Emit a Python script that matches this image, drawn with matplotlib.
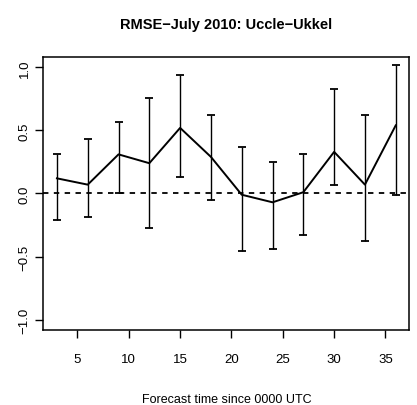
import numpy as np
import matplotlib.pyplot as plt

plt.rcParams['font.family'] = ['Liberation Sans', 'DejaVu Sans']

# forecast lead time (hours) and RMSE statistics
hours = [3, 6, 9, 12, 15, 18, 21, 24, 27, 30, 33, 36]
rmse = [0.12, 0.07, 0.31, 0.24, 0.52, 0.29, -0.01, -0.07, 0.01, 0.33, 0.07, 0.54]
upper = [0.31, 0.43, 0.57, 0.76, 0.94, 0.62, 0.365, 0.25, 0.31, 0.83, 0.62, 1.02]
lower = [-0.21, -0.19, 0.00, -0.27, 0.13, -0.05, -0.46, -0.44, -0.33, 0.07, -0.38, -0.01]

fig = plt.figure(figsize=(4.17, 4.06), dpi=100)
ax = fig.add_axes([0.104, 0.1855, 0.8775, 0.671])

ax.plot(hours, rmse, color='black', lw=1.4)
ax.axhline(0, color='black', lw=1.3, ls=(0, (3, 3)))

h = np.array(hours)
yerr = [np.array(rmse) - np.array(lower), np.array(upper) - np.array(rmse)]
ax.errorbar(h, rmse, yerr=yerr, fmt='none', ecolor='black', elinewidth=1.0,
            capsize=3, capthick=1.3)

ax.set_xlim(1.68, 37.32)
ax.set_ylim(-1.08, 1.08)
ax.set_xticks([5, 10, 15, 20, 25, 30, 35])
ax.set_yticks([-1.0, -0.5, 0.0, 0.5, 1.0])
ax.set_yticklabels(['\u22121.0', '\u22120.5', '0.0', '0.5', '1.0'], rotation=90,
                   va='center')
ax.tick_params(direction='out', length=6, width=1, labelsize=9.5)
ax.tick_params(axis='x', pad=11)
ax.tick_params(axis='y', pad=3)
for s in ax.spines.values():
    s.set_linewidth(1.1)

ax.set_xlabel('Forecast time since 0000 UTC', fontsize=9, labelpad=20)
ax.set_title('RMSE\u2212July 2010: Uccle\u2212Ukkel', fontsize=10.5,
             fontweight='bold', pad=21)

fig.savefig('out.png', dpi=100)
